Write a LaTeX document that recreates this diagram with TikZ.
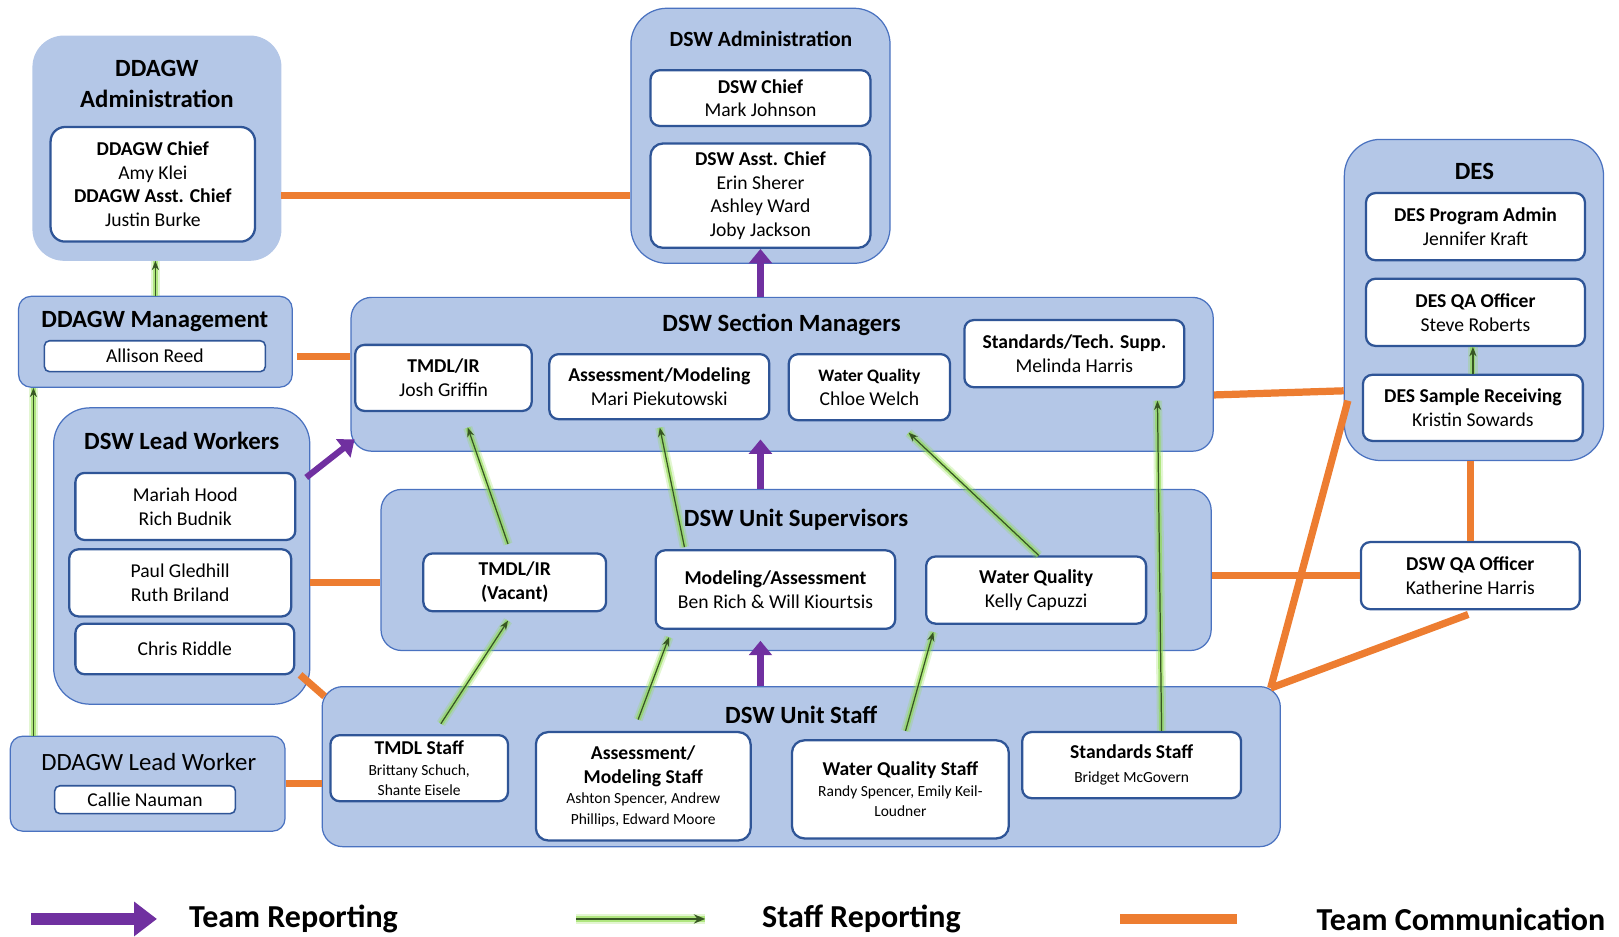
\documentclass[tikz,border=0pt]{standalone}
\usepackage{fontspec}
\setmainfont{Carlito}
\usetikzlibrary{arrows.meta}
\definecolor{grpfill}{HTML}{B4C7E7}
\definecolor{grpline}{HTML}{4A72C0}
\definecolor{cardline}{HTML}{2F5597}
\definecolor{purp}{HTML}{7030A0}
\definecolor{orng}{HTML}{ED7D31}
\definecolor{dgreen}{HTML}{375623}
\definecolor{glow}{HTML}{8EDC4A}
\newcommand{\nm}[1]{{\fontsize{15}{20}\selectfont #1}}
\tikzset{
  grp/.style={draw=grpline, fill=grpfill, line width=1.2pt, rounded corners=20pt, inner sep=0pt},
  card/.style={draw=cardline, fill=white, line width=2.2pt, rounded corners=9pt, align=center,
    inner sep=0pt, font=\fontsize{19}{23}\selectfont},
  ttl/.style={font=\bfseries\fontsize{24}{30}\selectfont, align=center, inner sep=0pt},
  team/.style={draw=purp, line width=6pt, -{Triangle[width=22pt,length=14pt]}},
  staff/.style={draw=dgreen, line width=1.2pt, -{Stealth[length=9pt,width=7pt]},
    preaction={draw=glow, line width=9pt, opacity=.25, -},
    preaction={draw=glow, line width=5pt, opacity=.6, -}},
  comm/.style={draw=orng, line width=7pt},
  lgd/.style={font=\bfseries\fontsize{31}{36}\selectfont, inner sep=0pt, anchor=west}
}
\begin{document}
\begin{tikzpicture}[x=1pt,y=-1pt]
\useasboundingbox (0,0) rectangle (1568,907);

% group boxes
\node[grp, draw=grpfill, rounded corners=30pt, minimum width=240pt, minimum height=217pt] (ddagwadm) at (152,143.5) {};
\node[grp, rounded corners=35pt, minimum width=251pt, minimum height=247pt] (dswadm) at (736.5,131.5) {};
\node[grp, rounded corners=35pt, minimum width=251pt, minimum height=311pt] (des) at (1427.5,290.5) {};
\node[grp, rounded corners=12pt, minimum width=265pt, minimum height=88pt] (ddagwmgmt) at (150.5,331) {};
\node[grp, minimum width=835pt, minimum height=149pt] (secmgr) at (757.5,362.5) {};
\node[grp, rounded corners=35pt, minimum width=248pt, minimum height=287pt] (leadw) at (176,538.5) {};
\node[grp, minimum width=804pt, minimum height=156pt] (unitsup) at (771,552) {};
\node[grp, minimum width=928pt, minimum height=155pt] (unitstaff) at (776,742.5) {};
\node[grp, rounded corners=12pt, minimum width=266pt, minimum height=92pt] (ddagwlead) at (143,759) {};

% titles
\node[ttl] (ddagwadm-t) at (152,81) {DDAGW\\Administration};
\node[ttl, font=\bfseries\fontsize{21}{26}\selectfont] (dswadm-t) at (737,38) {DSW Administration};
\node[ttl] (des-t) at (1428,166) {DES};
\node[ttl] (ddagwmgmt-t) at (150,311) {DDAGW Management};
\node[ttl] (secmgr-t) at (757,315) {DSW Section Managers};
\node[ttl] (leadw-t) at (176,427) {DSW Lead Workers};
\node[ttl] (unitsup-t) at (771,503) {DSW Unit Supervisors};
\node[ttl] (unitstaff-t) at (776,692) {DSW Unit Staff};
\node[ttl, font=\fontsize{24}{30}\selectfont] (ddagwlead-t) at (144,738) {DDAGW Lead Worker};

% cards
\node[card, minimum width=198pt, minimum height=111pt, rounded corners=14pt] (ddagwchief) at (148,178.5)
  {\textbf{DDAGW Chief}\\Amy Klei\\\textbf{DDAGW Asst. Chief}\\Justin Burke};
\node[card, minimum width=213pt, minimum height=54pt] (dswchief) at (736.5,95) {\textbf{DSW Chief}\\Mark Johnson};
\node[card, minimum width=213pt, minimum height=101pt, rounded corners=12pt] (dswasst) at (736.5,189.5)
  {\textbf{DSW Asst. Chief}\\Erin Sherer\\Ashley Ward\\Joby Jackson};
\node[card, minimum width=212pt, minimum height=65pt] (desprog) at (1429,219.5) {\textbf{DES Program Admin}\\Jennifer Kraft};
\node[card, minimum width=212pt, minimum height=65pt] (desqa) at (1429,302.5) {\textbf{DES QA Officer}\\Steve Roberts};
\node[card, minimum width=213pt, minimum height=64pt] (desrecv) at (1426.5,395) {\textbf{DES Sample Receiving}\\Kristin Sowards};
\node[card, minimum width=214pt, minimum height=30pt, rounded corners=5pt, line width=1.5pt] (reed) at (150,345) {Allison Reed};
\node[card, minimum width=171pt, minimum height=64pt] (tmdlir) at (429.5,366) {\textbf{TMDL/IR}\\Josh Griffin};
\node[card, minimum width=213pt, minimum height=63pt] (assmod) at (638.5,374.5) {\textbf{Assessment/Modeling}\\Mari Piekutowski};
\node[card, minimum width=156pt, minimum height=64pt] (wqmgr) at (842,375)
  {{\bfseries\fontsize{17}{23}\selectfont Water Quality}\\Chloe Welch};
\node[card, minimum width=213pt, minimum height=65pt] (stdmgr) at (1040.5,342.5) {\textbf{Standards/Tech. Supp.}\\Melinda Harris};
\node[card, minimum width=213pt, minimum height=65pt] (lw1) at (179.5,490.5) {Mariah Hood\\Rich Budnik};
\node[card, minimum width=215pt, minimum height=65pt] (lw2) at (174.5,564.5) {Paul Gledhill\\Ruth Briland};
\node[card, minimum width=212pt, minimum height=49pt] (lw3) at (179,628.5) {Chris Riddle};
\node[card, minimum width=177pt, minimum height=56pt] (tmdlsup) at (498.5,564) {\textbf{TMDL/IR}\\\textbf{(Vacant)}};
\node[card, minimum width=232pt, minimum height=76pt] (modsup) at (751,571) {\textbf{Modeling/Assessment}\\Ben Rich \& Will Kiourtsis};
\node[card, minimum width=213pt, minimum height=65pt] (wqsup) at (1003.5,571.5) {\textbf{Water Quality}\\Kelly Capuzzi};
\node[card, minimum width=172pt, minimum height=64pt] (tmdlstaff) at (406,744)
  {\textbf{TMDL Staff}\\[-3pt]\nm{Brittany Schuch,}\\[-3pt]\nm{Shante Eisele}};
\node[card, minimum width=208pt, minimum height=105pt, rounded corners=12pt] (assstaff) at (623,761.5)
  {\textbf{Assessment/}\\\textbf{Modeling Staff}\\[-3pt]\nm{Ashton Spencer, Andrew}\\[-3pt]\nm{Phillips, Edward Moore}};
\node[card, minimum width=210pt, minimum height=95pt, rounded corners=12pt] (wqstaff) at (872,764.5)
  {\textbf{Water Quality Staff}\\[-3pt]\nm{Randy Spencer, Emily Keil-}\\[-3pt]\nm{Loudner}};
\node[card, minimum width=212pt, minimum height=64pt] (stdstaff) at (1096,741) {\textbf{Standards Staff}\\\nm{Bridget McGovern}};
\node[card, minimum width=175pt, minimum height=27pt, rounded corners=5pt, line width=1.5pt] (callie) at (140.5,774.5) {Callie Nauman};
\node[card, minimum width=212pt, minimum height=65pt] (dswqa) at (1424,557.5) {\textbf{DSW QA Officer}\\Katherine Harris};

% team communication
\draw[comm] (dswasst.west -| ddagwadm.east) -- (dswasst.west -| dswadm.west);
\draw[comm, shorten <=4pt] (reed.east -| ddagwmgmt.east) -- (reed.east -| secmgr.west);
\draw[comm] (lw2.east -| leadw.east) -- (lw2.east -| unitsup.west);
\draw[comm] ([shift={(-10,-29)}]leadw.south east) -- ([shift={(3,10)}]unitstaff.north west);
\draw[comm] (ddagwlead.east) -- (ddagwlead.east -| unitstaff.west);
\draw[comm] ([shift={(0,20)}]secmgr.east) -- ([shift={(0,88)}]des.west);
\draw[comm] ([shift={(4,97.5)}]des.west) -- ([shift={(-10,2)}]unitstaff.north east);
\draw[comm] (dswqa.west -| unitsup.east) -- (dswqa.west);
\draw[comm] ([shift={(-2,4)}]dswqa.south) -- ([shift={(-10,2)}]unitstaff.north east);
\draw[comm] (des.south -| dswqa.north) -- (dswqa.north);

% team reporting
\draw[team] (dswasst.south |- secmgr.north) -- (dswasst.south);
\draw[team] (dswasst.south |- unitsup.north) -- ([shift={(0,-12)}]dswasst.south |- secmgr.south);
\draw[team] (dswasst.south |- unitstaff.north) -- ([shift={(0,-10)}]dswasst.south |- unitsup.south);
\draw[team] ([shift={(-4,68)}]leadw.north east) -- ([shift={(4,-12)}]secmgr.south west);

% staff reporting
\draw[staff] ([shift={(21,-10)}]tmdlstaff.north) -- ([shift={(-6.5,8)}]tmdlsup.south);
\draw[staff] ([shift={(-6.5,-8)}]tmdlsup.north) -- ([shift={(23.5,15)}]tmdlir.south);
\draw[staff] ([shift={(-5,-11)}]assstaff.north) -- ([shift={(14,7)}]modsup.south west);
\draw[staff] ([shift={(29,-2)}]modsup.north west) -- ([shift={(0.5,7)}]assmod.south);
\draw[staff] ([shift={(5,-8)}]wqstaff.north) -- ([shift={(8,7)}]wqsup.south west);
\draw[staff] ([shift={(2.5,0)}]wqsup.north) -- ([shift={(38,11)}]wqmgr.south);
\draw[staff] ([shift={(29,0)}]stdstaff.north) -- ([shift={(80.5,12)}]stdmgr.south);
\draw[staff] ([shift={(23,0)}]ddagwlead.north west) -- ([shift={(15,0)}]ddagwmgmt.south west);
\draw[staff] (ddagwmgmt.north) -- (ddagwmgmt.north |- ddagwadm.south);
\draw[staff] (desrecv.north) -- (desrecv.north |- desqa.south);

% legend
\coordinate (lgteamA) at (30,890);
\coordinate (lgteamB) at (152,890);
\coordinate (lgstaffA) at (558,890);
\coordinate (lgstaffB) at (683,890);
\coordinate (lgcommA) at (1085,890);
\coordinate (lgcommB) at (1198,890);
\draw[team, line width=11pt, -{Triangle[width=32pt,length=22pt]}] (lgteamA) -- (lgteamB);
\draw[staff, line width=1.5pt, -{Stealth[length=11pt,width=9pt]}] (lgstaffA) -- (lgstaffB);
\draw[comm, line width=9pt] (lgcommA) -- (lgcommB);
\node[lgd] (lgteam) at (183,890) {Team Reporting};
\node[lgd] (lgstaff) at (738,890) {Staff Reporting};
\node[lgd] (lgcomm) at (1275,890) {Team Communication};
\end{tikzpicture}
\end{document}
